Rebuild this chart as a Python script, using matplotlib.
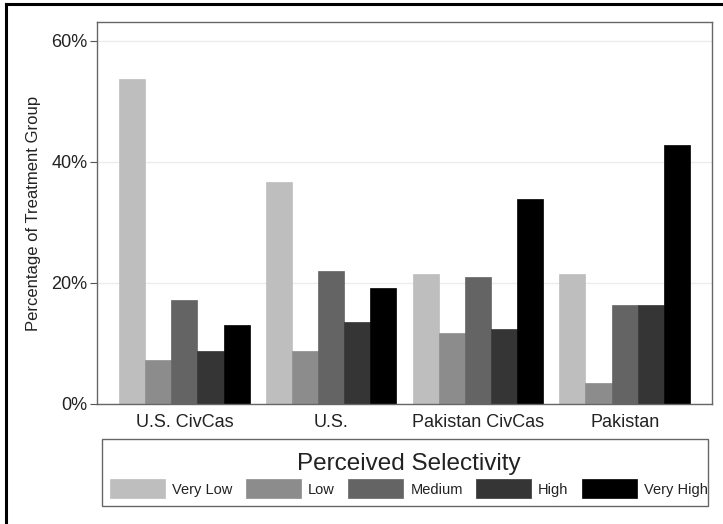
import matplotlib.pyplot as plt
import numpy as np
from matplotlib.lines import Line2D
from matplotlib.patches import Rectangle

plt.rcParams['font.family'] = ['Liberation Sans', 'DejaVu Sans']

# data (percent of treatment group)
groups = ['U.S. CivCas', 'U.S.', 'Pakistan CivCas', 'Pakistan']
levels = ['Very Low', 'Low', 'Medium', 'High', 'Very High']
very_low = [53.7, 36.7, 21.4, 21.4]
low = [7.3, 8.7, 11.8, 3.4]
medium = [17.2, 21.9, 20.9, 16.3]
high = [8.8, 13.6, 12.4, 16.3]
very_high = [13.0, 19.1, 33.8, 42.7]
yticks = [0, 20, 40, 60]

series = [very_low, low, medium, high, very_high]
colors = ['#bebebe', '#8c8c8c', '#646464', '#353535', '#000000']

W, H = 723, 524
fig = plt.figure(figsize=(W / 100, H / 100), dpi=100)
ax = fig.add_axes([97 / W, 1 - 404 / H, (712 - 97) / W, (404 - 22) / H])

x = np.arange(len(groups))
bw = 0.178
for i, (vals, c) in enumerate(zip(series, colors)):
    ax.bar(x + (i - 2) * bw, vals, width=bw, color=c, label=levels[i],
           edgecolor=c, linewidth=0.5, zorder=2)

ax.set_xlim(-0.595, 3.595)
ax.set_ylim(0, 63.1)
ax.set_yticks(yticks)
ax.set_yticklabels([f'{t}%' for t in yticks])
ax.set_xticks(x)
ax.set_xticklabels(groups)
ax.tick_params(axis='x', length=0, pad=7, labelsize=13, colors='#222222')
ax.tick_params(axis='y', length=5, width=0.8, pad=2, labelsize=13,
               colors='#222222', color='#555555')
ax.grid(axis='y', color='#ececec', linewidth=1, zorder=0)
ax.set_axisbelow(True)
for s in ax.spines.values():
    s.set_color('#666666')
    s.set_linewidth(1)
ax.set_ylabel('Percentage of Treatment Group', fontsize=12, color='#222222',
              labelpad=7)

# legend with separate frame
fig.patches.append(Rectangle((102 / W, 1 - 506 / H), (708 - 102) / W, (506 - 439) / H,
                             transform=fig.transFigure, fill=False,
                             edgecolor='#666666', linewidth=1))
leg = fig.legend(loc='upper left', bbox_to_anchor=(110 / W, 1 - 453 / H),
                 ncol=5, frameon=False, fontsize=10.5, borderpad=0,
                 borderaxespad=0,
                 handlelength=3.77, handleheight=1.63, handletextpad=0.5,
                 columnspacing=0.9, labelspacing=0.3,
                 title='Perceived Selectivity', title_fontsize=17.5)
leg.get_title().set_color('#222222')
for t in leg.get_texts():
    t.set_color('#222222')

# outer border (left and top visible)
fig.add_artist(Line2D([6 / W, 6 / W], [0, 1 - 4 / H], transform=fig.transFigure,
                      color='black', linewidth=2.2))
fig.add_artist(Line2D([6 / W, 1], [1 - 4 / H, 1 - 4 / H], transform=fig.transFigure,
                      color='black', linewidth=2.2))

fig.savefig('out.png', dpi=100)
